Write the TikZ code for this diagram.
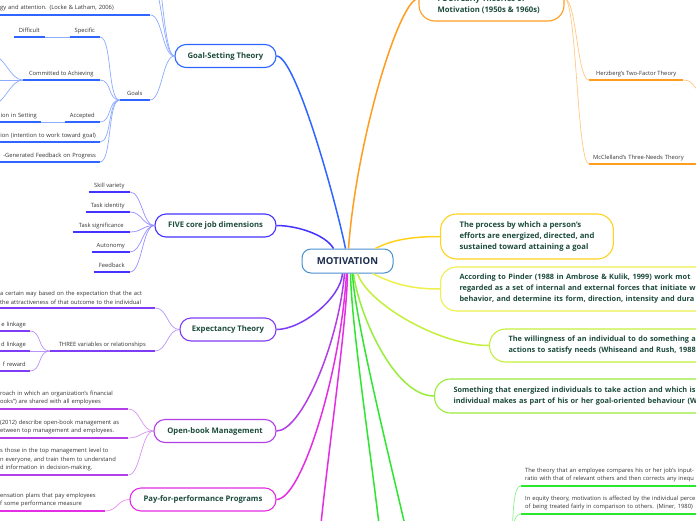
\documentclass[tikz,border=0pt]{standalone}
\usepackage{fontspec}
\setmainfont{Open Sans}
\usetikzlibrary{positioning, calc}
\definecolor{rootline}{HTML}{4A90D0}
\definecolor{roottext}{HTML}{1B2C4E}
\definecolor{topictext}{HTML}{1D4B3E}
\definecolor{leaftext}{HTML}{333333}
\definecolor{cgoal}{HTML}{2F66FF}
\definecolor{cfive}{HTML}{4433FF}
\definecolor{cexp}{HTML}{7E3CF6}
\definecolor{cobm}{HTML}{B23EE8}
\definecolor{cpay}{HTML}{E42EE4}
\definecolor{cfour}{HTML}{FF9D1E}
\definecolor{cproc}{HTML}{FFD21C}
\definecolor{cpind}{HTML}{EEF04C}
\definecolor{cwill}{HTML}{C4F03C}
\definecolor{csome}{HTML}{98EE3A}
\definecolor{cequi}{HTML}{2EE62E}
\newcommand\rootfont{\bfseries\fontsize{9.6}{11}\selectfont}
\newcommand\topicfont{\bfseries\fontsize{7.7}{11}\selectfont}
\newcommand\widefont{\bfseries\fontsize{7.35}{11}\selectfont}
\newcommand\leaffont{\fontsize{5.8}{8.8}\selectfont}

\begin{document}
\begin{tikzpicture}[x=1pt, y=-1pt,
  root/.style={draw=rootline, fill=white, line width=1pt, rounded corners=9pt, font=\rootfont, text=roottext, minimum width=91pt, minimum height=24pt},
  topic/.style={draw=#1, fill=white, line width=1.1pt, rounded corners=11pt, font=\topicfont, text=topictext, minimum height=23pt},
  bigtopic/.style={topic=#1, rounded corners=16pt, align=left, inner xsep=19pt, anchor=west},
  leafbase/.style={font=\leaffont, text=leaftext, inner xsep=4pt, inner ysep=3.5pt,
    append after command={(\tikzlastnode.south west) edge[draw=#1, line width=1.6pt] (\tikzlastnode.south east)}},
  leaf/.style={leafbase=#1, text height=4.5pt, text depth=1.3pt},
  note/.style={leafbase=#1, anchor=south west, align=left},
  lcut/.style={anchor=south east, align=right, text width=#1},
  main/.style={draw=#1, line width=1.5pt},
  twig/.style={draw=#1!55, line width=0.7pt},
  toright/.style={to path={.. controls +(12,0) and +(-12,0) .. (\tikztotarget)}},
  toleft/.style={to path={.. controls +(-12,0) and +(12,0) .. (\tikztotarget)}}]
\useasboundingbox (0,0) rectangle (696,520);
\clip (0,0) rectangle (696,520);
\fill[white] (0,0) rectangle (696,520);

\node[root] (mot) at (347.5,261) {MOTIVATION};
\coordinate (mtop) at (mot.north);
\coordinate (mbot) at (mot.south);

\node[topic=cgoal, minimum width=101pt] (goal) at (225.5,56) {Goal-Setting Theory};
\node[topic=cfive, minimum width=121pt] (five) at (215.5,225.5) {FIVE core job dimensions};
\node[topic=cexp, minimum width=96pt] (expt) at (228,329.5) {Expectancy Theory};
\node[topic=cobm, minimum width=122pt] (obm) at (215,431) {Open-book Management};
\node[topic=cpay, minimum width=146pt] (pay) at (203,499.5) {Pay-for-performance Programs};
\node[topic=cfour, minimum width=145pt, minimum height=45pt, rounded corners=16pt] (four) at (491.5,-1.5) {};
\node[font=\topicfont, text=topictext, align=left, anchor=west, inner sep=0pt] (fourtxt) at ([xshift=19pt, yshift=-6.5pt]four.west) {FOUR Early Theories of\\Motivation (1950s \& 1960s)};
\node[bigtopic=cproc, minimum height=45pt] (proc) at (440,236.5) {The process by which a person's\\efforts are energized, directed, and\\sustained toward attaining a goal};
\node[bigtopic=cpind, font=\widefont, minimum height=44pt, text width=300pt] (pind) at (440,289) {According to Pinder (1988 in Ambrose \& Kulik, 1999) work mot\\regarded as a set of internal and external forces that initiate w\\behavior, and determine its form, direction, intensity and dura};
\node[bigtopic=cwill, font=\widefont, minimum height=33pt, text width=300pt] (will) at (489,345.5) {The willingness of an individual to do something a\\actions to satisfy needs (Whiseand and Rush, 1988};
\node[bigtopic=csome, font=\widefont, minimum height=34pt, text width=320pt] (some) at (434,396) {Something that energized individuals to take action and which is\\individual makes as part of his or her goal-oriented behaviour (W};

\node[note=cgoal, text width=146pt] (gtop) at (-4,15) {gy and attention. (Locke \& Latham, 2006)};
\node[leaf=cgoal, anchor=south east, minimum width=30pt] (goals) at (150,100) {Goals};
\node[leaf=cgoal, anchor=south east, minimum width=30pt] (spec) at (100,37) {Specific};
\node[leaf=cgoal, anchor=south east, minimum width=31pt] (diff) at (45,37) {Difficult};
\node[leaf=cgoal, anchor=south east, minimum width=77pt] (comm) at (100,80) {Committed to Achieving};
\node[leaf=cgoal, anchor=south east, minimum width=35pt] (acc) at (100,122) {Accepted};
\node[leaf=cgoal, lcut=53pt] (part) at (41,122) {ion in Setting};
\node[leaf=cgoal, lcut=112pt] (intent) at (100,142) {ion (intention to work toward goal)};
\node[leaf=cgoal, lcut=112pt] (gfb) at (100,162) {-Generated Feedback on Progress};
\coordinate (gup1) at (150,-20);
\coordinate (gup2) at (150,-50);
\coordinate (cup) at (-8,55);
\coordinate (cmid) at (-8,80);
\coordinate (cdn) at (-8,105);

\node[leaf=cfive, anchor=south east, minimum width=41pt] (sv) at (130,192) {Skill variety};
\node[leaf=cfive, anchor=south east, minimum width=44pt] (ti) at (130,212) {Task identity};
\node[leaf=cfive, anchor=south east, minimum width=57pt] (ts) at (130,232) {Task significance};
\node[leaf=cfive, anchor=south east, minimum width=38pt] (au) at (130,252) {Autonomy};
\node[leaf=cfive, anchor=south east, minimum width=36pt] (fbk) at (130,272) {Feedback};

\node[note=cexp, text width=151pt] (exnote) at (-4,308) {a certain way based on the expectation that the act\\the attractiveness of that outcome to the individual};
\node[leaf=cexp, anchor=south east, minimum width=105pt] (three) at (155,351) {THREE variables or relationships};
\node[leaf=cexp, lcut=42pt] (elk) at (30,331) {e linkage};
\node[leaf=cexp, lcut=42pt] (dlk) at (30,351) {d linkage};
\node[leaf=cexp, lcut=42pt] (frw) at (30,371) {f reward};

\node[note=cobm, text width=124pt] (ob1) at (-4,409) {roach in which an organization's financial\\ooks”) are shared with all employees};
\node[note=cobm, text width=124pt] (ob2) at (-4,438) {(2012) describe open-book management as\\etween top management and employees.};
\node[note=cobm, text width=124pt] (ob3) at (-4,475) {s those in the top management level to\\n everyone, and train them to understand\\d information in decision-making.};

\node[note=cpay, text width=101pt] (pay1) at (-4,511) {ensation plans that pay employees\\f some performance measure};

\node[leaf=cfour, anchor=south west, minimum width=94pt] (herz) at (589,80) {Herzberg's Two-Factor Theory};
\node[leaf=cfour, anchor=south west, align=left, text width=120pt] (mccl) at (589,164) {McClelland's Three-Needs Theory};
\coordinate (fup) at (590,-25);
\coordinate (hzn) at (705,92);

\node[note=cequi, text width=200pt] (eq1) at (521,486) {The theory that an employee compares his or her job's input-\\ratio with that of relevant others and then corrects any inequ};
\node[note=cequi, text width=200pt] (eq2) at (521,514) {In equity theory, motivation is affected by the individual perce\\of being treated fairly in comparison to others. (Miner, 1980)};
\coordinate (eqroot) at (505,545);
\coordinate (eqa) at (383,560);
\coordinate (eqb) at (413,560);
\coordinate (payb) at (318,560);

\draw[main=cgoal] (goal.east) .. controls +(19,0) and +(-10,-49) .. ([xshift=-2pt]mtop);
\draw[main=cfour] (four.west) .. controls +(-19,0) and +(8,-109) .. ([xshift=1pt]mtop);
\draw[main=cfive] (five.east) .. controls +(20,0) and +(-8,-14) .. ([xshift=-14pt]mtop);
\draw[main=cproc] ([xshift=28pt]mtop) .. controls +(15,-8) and +(-30,0) .. (proc.west);
\draw[main=cpind] ([xshift=25pt]mbot) .. controls +(20,10) and +(-30,0) .. (pind.west);
\draw[main=cwill] ([xshift=10pt]mbot) .. controls +(10,30) and +(-50,0) .. (will.west);
\draw[main=csome] ([xshift=6pt]mbot) .. controls +(5,40) and +(-40,0) .. (some.west);
\draw[main=cequi] ([xshift=3pt]mbot) .. controls +(1,57) and +(-8,-80) .. (eqa);
\draw[main=cequi] ([xshift=5pt]mbot) .. controls +(2,47) and +(-18,-80) .. (eqb);
\draw[main=cexp] ([xshift=-5pt]mbot) .. controls +(-2,25) and +(25,0) .. (expt.east);
\draw[main=cobm] ([xshift=-3pt]mbot) .. controls +(-6,70) and +(25,0) .. (obm.east);
\draw[main=cpay] ([xshift=-1pt]mbot) .. controls +(-6,100) and +(25,0) .. (pay.east);
\draw[main=cpay] (mbot) .. controls +(-1,60) and +(3,-60) .. (payb);

\path[twig=cgoal] (gtop.south east) edge[toright] (goal.west)
  (goals.south east) edge[toright] (goal.west)
  (goal.west) edge[toleft] (gup1)
  (goal.west) edge[toleft] (gup2)
  (goals.south west) edge[toleft] (spec.south east)
  (goals.south west) edge[toleft] (comm.south east)
  (goals.south west) edge[toleft] (acc.south east)
  (goals.south west) edge[toleft] (intent.south east)
  (goals.south west) edge[toleft] (gfb.south east)
  (spec.south west) edge (diff.south east)
  (comm.south west) edge[toleft] (cup)
  (comm.south west) edge (cmid)
  (comm.south west) edge[toleft] (cdn)
  (acc.south west) edge (part.south east);
\path[twig=cfive] (sv.south east) edge[toright] (five.west)
  (ti.south east) edge[toright] (five.west)
  (ts.south east) edge[toright] (five.west)
  (au.south east) edge[toright] (five.west)
  (fbk.south east) edge[toright] (five.west);
\path[twig=cexp] (exnote.south east) edge[toright] (expt.west)
  (three.south east) edge[toright] (expt.west)
  (three.south west) edge[toleft] (elk.south east)
  (three.south west) edge (dlk.south east)
  (three.south west) edge[toleft] (frw.south east);
\path[twig=cobm] (ob1.south east) edge[toright] (obm.west)
  (ob2.south east) edge[toright] (obm.west)
  (ob3.south east) edge[toright] (obm.west);
\path[twig=cpay] (pay1.south east) edge[toright] (pay.west);
\path[twig=cfour] (four.east) edge[toright] (herz.south west)
  (four.east) edge[toright] (mccl.south west)
  (four.east) edge[toright] (fup)
  (herz.south east) edge[toright] (hzn);
\path[twig=cequi] (eqroot) edge[toright] (eq1.south west)
  (eqroot) edge[toright] (eq2.south west);
\end{tikzpicture}
\end{document}
